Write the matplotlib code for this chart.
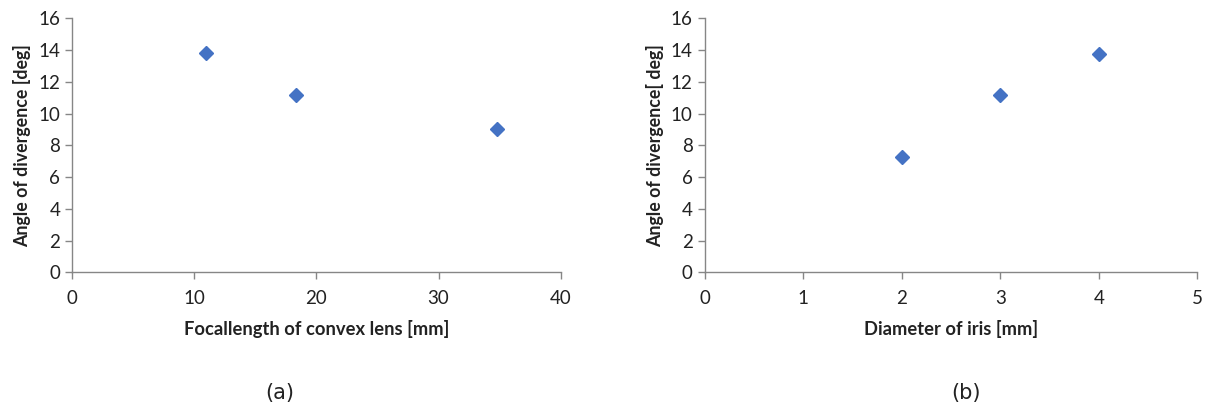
import matplotlib.pyplot as plt

# Panel (a): focal length vs divergence angle
focal_mm = [11.0, 18.3, 34.8]
angle_a = [13.85, 11.2, 9.03]

# Panel (b): iris diameter vs divergence angle
iris_mm = [2.0, 3.0, 4.0]
angle_b = [7.3, 11.2, 13.75]

plt.rcParams['font.family'] = ['Lato', 'DejaVu Sans']

fig = plt.figure(figsize=(12.07, 4.09), dpi=100)
ax1 = fig.add_axes([0.0597, 0.334, 0.4048, 0.621])
ax2 = fig.add_axes([0.5837, 0.334, 0.4083, 0.621])

blue = '#4472C4'
axis_col = '#868686'

def style(ax, xmax, xstep, xlabel, ylabel):
    ax.set_xlim(0, xmax)
    ax.set_ylim(0, 16)
    ax.set_xticks(range(0, xmax + 1, xstep))
    ax.set_yticks(range(0, 17, 2))
    for s in ['top', 'right']:
        ax.spines[s].set_visible(False)
    for s in ['left', 'bottom']:
        ax.spines[s].set_color(axis_col)
        ax.spines[s].set_linewidth(1.0)
    ax.tick_params(colors=axis_col, labelcolor='#222222', labelsize=13.5,
                   length=5, width=1.0, direction='out')
    ax.tick_params(axis='x', pad=8)
    ax.set_xlabel(xlabel, fontsize=13.2, fontweight='bold', labelpad=9, color='#222222')
    ax.set_ylabel(ylabel, fontsize=12.8, fontweight='bold', labelpad=5, color='#222222')

ax1.plot(focal_mm, angle_a, linestyle='none', marker='D', markersize=7.5,
         color=blue, clip_on=False)
style(ax1, 40, 10, 'Focallength of convex lens [mm]', 'Angle of divergence [deg]')

ax2.plot(iris_mm, angle_b, linestyle='none', marker='D', markersize=7.5,
         color=blue, clip_on=False)
style(ax2, 5, 1, 'Diameter of iris [mm]', 'Angle of divergence[ deg]')

fig.text(280 / 1207, 1 - 393 / 409, '(a)', ha='center', va='center',
         fontsize=15, family='DejaVu Sans', color='#222222')
fig.text(966 / 1207, 1 - 393 / 409, '(b)', ha='center', va='center',
         fontsize=15, family='DejaVu Sans', color='#222222')

fig.savefig('out.png', dpi=100)
